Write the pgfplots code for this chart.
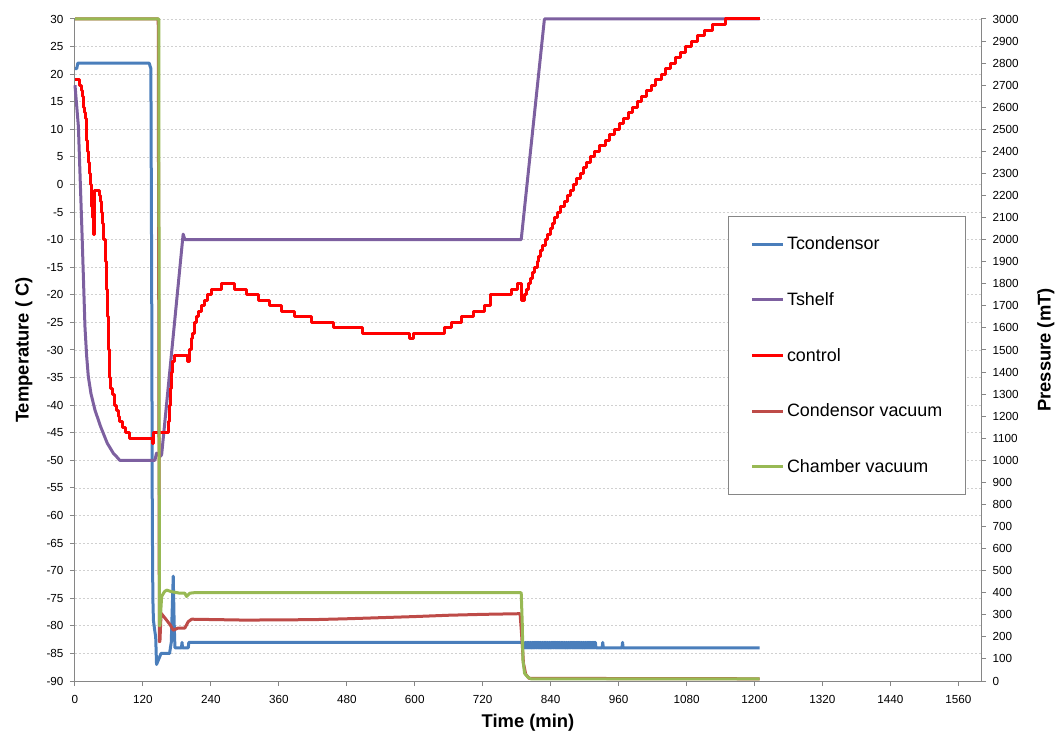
\documentclass[border=0pt]{standalone}
\usepackage{fontspec}
\setmainfont{Liberation Sans}
\usepackage{pgfplots}
\pgfplotsset{compat=1.18}

\definecolor{tcond}{HTML}{4A7EBB}
\definecolor{tshelf}{HTML}{7D60A0}
\definecolor{ctrl}{HTML}{FF0000}
\definecolor{cvac}{HTML}{BE4B48}
\definecolor{chvac}{HTML}{98B954}
\definecolor{axgray}{HTML}{868686}
\definecolor{gridgray}{HTML}{D0D0D0}

\pgfplotsset{
  common/.style={
    scale only axis, width=906bp, height=662bp,
    xmin=0, xmax=1600, clip=false,
    axis line style={axgray, line width=1bp},
    tick style={axgray, line width=1bp},
    major tick length=5bp, tick align=outside,
    /pgf/number format/assume math mode=true,
    /pgf/number format/set thousands separator={},
    ticklabel style={font=\fontsize{11.7bp}{14bp}\selectfont},
    label style={font=\bfseries\fontsize{18.4bp}{22bp}\selectfont},
    every axis plot/.append style={line width=3bp, line join=round},
  },
}

\begin{document}
\begin{tikzpicture}
\useasboundingbox (-75bp,-59bp) rectangle (981bp,681bp);

% Temperatures (left axis)
\begin{axis}[common,
  ymin=-90, ymax=30, ytick={-90,-85,...,30},
  xtick={0,120,...,1560},
  axis y line*=left, axis x line*=bottom,
  ymajorgrids,
  grid style={gridgray, dash pattern=on 2bp off 2bp, line width=0.7bp},
  yticklabel style={xshift=-3bp},
  xticklabel style={yshift=-6bp},
  xlabel={Time (min)},
  xlabel style={at={(axis description cs:0.5,-0.0634)}, anchor=center},
  ylabel={Temperature ( C)},
  ylabel style={at={(axis description cs:-0.0565,0.5)}, anchor=center},
]
% Tcondensor
\addplot[tcond] coordinates {
(0,21) (3,21) (5,22) (131,22) (134,21) (135.5,-20) (136.5,-60) (137.5,-75)
(138.5,-79) (141,-81) (142.5,-82) (144,-87) (146,-86.5) (148,-86) (150,-85.5)
(152,-85) (167,-85) (170,-83) (172,-76) (173.5,-71) (175,-79) (176.5,-84)
(188,-84) (189,-83) (190,-84) (200,-84) (201,-83) (206,-83) (788,-83) (792,-83)
(794,-84) (795,-83) (796,-84) (797,-83) (798,-84) (799,-83) (800,-84) (801,-83)
(802,-84) (803,-83) (804,-84) (805,-83) (806,-84) (807,-83) (808,-84) (809,-83)
(810,-84) (811,-83) (812,-84) (813,-83) (814,-84) (815,-83) (816,-84) (817,-83)
(818,-84) (819,-83) (820,-84) (821,-83) (822,-84) (823,-83) (824,-84) (825,-83)
(826,-84) (827,-83) (828,-84) (829,-83) (830,-84) (831,-83) (832,-84) (833,-83)
(834,-84) (835,-83) (836,-84) (837,-83) (838,-84) (839,-83) (840,-84) (841,-83)
(842,-84) (843,-83) (844,-84) (845,-83) (846,-84) (847,-83) (848,-84) (849,-83)
(850,-84) (851,-83) (852,-84) (853,-83) (854,-84) (855,-83) (856,-84) (857,-83)
(858,-84) (859,-83) (860,-84) (861,-83) (862,-84) (863,-83) (864,-84) (865,-83)
(866,-84) (867,-83) (868,-84) (869,-83) (870,-84) (871,-83) (872,-84) (873,-83)
(874,-84) (875,-83) (876,-84) (877,-83) (878,-84) (879,-83) (880,-84) (881,-83)
(882,-84) (883,-83) (884,-84) (885,-83) (886,-84) (887,-83) (888,-84) (889,-83)
(890,-84) (891,-83) (892,-84) (893,-83) (894,-84) (895,-83) (896,-84) (897,-83)
(898,-84) (899,-83) (900,-84) (901,-83) (902,-84) (903,-83) (904,-84) (905,-83)
(906,-84) (907,-83) (908,-84) (909,-83) (910,-84) (911,-83) (912,-84) (913,-83)
(914,-84) (915,-83) (916,-84) (917,-83) (918,-84) (919,-83) (920,-84)
(931,-84) (932,-83) (933,-84) (966,-84) (967,-83) (968,-84) (1209,-84)
};
% Tshelf
\addplot[tshelf] coordinates {
(0,18) (6,10.5) (12,-7.6) (17.6,-25.8) (20.5,-31) (23.5,-34.8) (28.2,-37.9)
(35.3,-40.9) (45.3,-43.9) (57,-46.9) (67.6,-48.7) (74,-49.4) (79,-50)
(141,-50) (144,-48.7) (147,-49) (150,-49.3) (153,-49) (191,-9) (194,-10)
(788,-10) (829,30) (1209,30)
};
% control
\addplot[ctrl, const plot] coordinates {
(0,19) (8,18) (11,17) (13,16) (15,14) (17,13) (18,12) (19.5,10) (21,8)
(22.5,6) (24,4) (25.5,2) (27,0) (28.5,-2) (30,-4) (31.5,-6) (33,-9) (35,-1)
(43,-2) (45,-3) (47,-5) (49,-7) (51,-10) (53,-14) (55,-19) (57,-24) (59,-30)
(61,-35) (63,-37) (66,-38) (69,-40) (73,-41) (76,-42) (79,-43) (84,-44)
(90,-45) (97,-46) (136,-47) (139,-45) (165,-43) (167,-40) (169,-37) (171,-34)
(173,-32) (176,-31) (198,-32) (203,-30) (205,-28) (208,-27) (211,-25)
(214,-24) (218,-23) (223,-22) (228,-21) (234,-20) (241,-19) (259,-18)
(282,-19) (303,-20) (324,-21) (344,-22) (364,-23) (388,-24) (418,-25)
(456,-26) (508,-27) (591,-28) (598,-27) (653,-26) (665,-25) (682,-24)
(703,-23) (724,-22) (733,-20) (770,-19) (782,-18) (789,-21) (793,-20)
(797,-19) (801,-18) (805,-17) (808,-16) (812,-15) (816,-14) (819,-13)
(822,-12) (826,-11) (831,-10) (835,-9) (839,-8) (843,-7) (847,-6) (852,-5)
(858,-4) (864,-3) (870,-2) (875,-1) (880,0) (886,1) (892,2) (898,3) (904,4)
(911,5) (918,6) (927,7) (936,8) (944,9) (953,10) (961,11) (969,12) (977,13)
(985,14) (993,15) (1001,16) (1009,17) (1018,18) (1026,19) (1035,20)
(1043,21) (1052,22) (1061,23) (1070,24) (1079,25) (1089,26) (1099,27)
(1111,28) (1125,29) (1148,30) (1209,30)
};
\end{axis}

% Pressures (right axis)
\begin{axis}[common,
  ymin=0, ymax=3000, ytick={0,100,...,3000},
  axis y line*=right, axis x line=none,
  yticklabel style={xshift=3bp},
  ylabel={Pressure (mT)},
  ylabel style={at={(axis description cs:1.0717,0.5)}, anchor=center, rotate=0},
  legend cell align=left,
  legend image code/.code={\draw[#1] (0bp,0bp) -- (31bp,0bp);},
  legend style={at={(0.7208,0.7024)}, anchor=north west,
    draw=axgray, line width=1bp, fill=white,
    font=\fontsize{17.9bp}{21bp}\selectfont,
    inner xsep=22bp, inner ysep=19bp, row sep=38.2bp,
    nodes={inner sep=1.5bp},
    /tikz/every odd column/.append style={column sep=1bp}},
]
\addlegendimage{tcond, line width=3bp}
\addlegendentry{Tcondensor}
\addlegendimage{tshelf, line width=3bp}
\addlegendentry{Tshelf}
\addlegendimage{ctrl, line width=3bp}
\addlegendentry{control}
% Condensor vacuum
\addplot[cvac] coordinates {
(0,3000) (147,3000) (149,178) (150,180) (152,307) (159,285) (168,255)
(173.5,230) (182,240) (194,240) (200,269) (206,280) (300,276) (420,278)
(480,282) (540,287) (600,292) (660,298) (720,302) (786,305) (789,200)
(792,80) (796,30) (802,12) (1209,10)
};
\addlegendentry{Condensor vacuum}
% Chamber vacuum
\addplot[chvac] coordinates {
(0,3000) (148,3000) (149,250) (150,253) (153,383) (158,405) (162,412)
(170,405) (185,398) (194,398) (197,383) (203,398) (210,400) (788,400)
(790,250) (791,95) (794,35) (800,17) (805,10) (1209,10)
};
\addlegendentry{Chamber vacuum}
\end{axis}
\end{tikzpicture}
\end{document}
